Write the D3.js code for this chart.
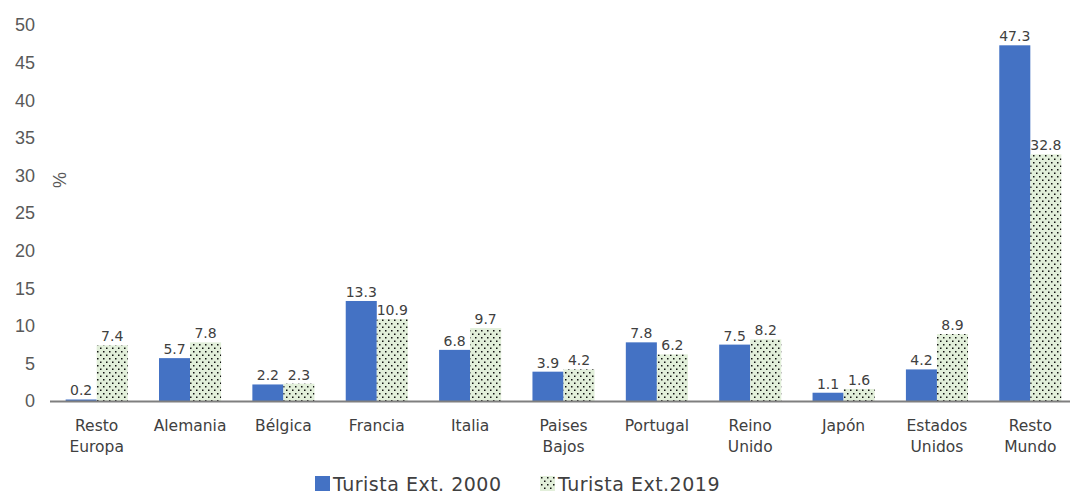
<!DOCTYPE html>
<html><head><meta charset="utf-8">
<script src="https://cdn.jsdelivr.net/npm/d3@7"></script>
<style>body{margin:0;background:#fff}svg{display:block}</style>
</head><body><svg id="c" width="1075" height="494"></svg>
<script>
const categories = [["Resto","Europa"],["Alemania"],["Bélgica"],["Francia"],["Italia"],["Paises","Bajos"],["Portugal"],["Reino","Unido"],["Japón"],["Estados","Unidos"],["Resto","Mundo"]];
const values2000 = [0.2,5.7,2.2,13.3,6.8,3.9,7.8,7.5,1.1,4.2,47.3];
const values2019 = [7.4,7.8,2.3,10.9,9.7,4.2,6.2,8.2,1.6,8.9,32.8];
const yTicks = [0,5,10,15,20,25,30,35,40,45,50];
const seriesNames = ["Turista Ext. 2000","Turista Ext.2019"];

const svg = d3.select("#c");
const defs = svg.append("defs");
const pat = defs.append("pattern").attr("id","dots").attr("patternUnits","userSpaceOnUse")
  .attr("width",6).attr("height",7);
pat.append("rect").attr("width",6).attr("height",7).attr("fill","#e2efda");
pat.append("rect").attr("x",1).attr("y",1).attr("width",1.5).attr("height",1.5).attr("fill","#111");
pat.append("rect").attr("x",4).attr("y",4.5).attr("width",1.5).attr("height",1.5).attr("fill","#111");

const x = d3.scaleBand().domain(d3.range(categories.length)).range([50,1077]).paddingInner(0.335).paddingOuter(0.1675);
const y = d3.scaleLinear().domain([0,50]).range([401,25]);
const xs = d3.scaleBand().domain([0,1]).range([0,x.bandwidth()]);

svg.append("g").selectAll("text").data(yTicks).join("text")
  .attr("x",35).attr("y",d=>y(d)).attr("dy","0.35em").attr("text-anchor","end")
  .attr("font-family","Liberation Sans, Arial, sans-serif").attr("font-size",18).attr("fill","#595959")
  .text(d=>d);

svg.append("text").attr("transform","translate(66,180) rotate(-90)").attr("text-anchor","middle")
  .attr("font-family","Liberation Sans, Arial, sans-serif").attr("font-size",18).attr("fill","#595959").text("%");

const series = [values2000, values2019];
const fills = ["#4472c4","url(#dots)"];
series.forEach((vals,si)=>{
  const g = svg.append("g");
  g.selectAll("rect").data(vals).join("rect")
    .attr("x",(d,i)=>x(i)+xs(si)).attr("width",xs.bandwidth())
    .attr("y",d=>y(d)).attr("height",d=>y(0)-y(d)).attr("fill",fills[si]);
  g.selectAll("text").data(vals).join("text")
    .attr("x",(d,i)=>x(i)+xs(si)+xs.bandwidth()/2).attr("y",d=>y(d)-4)
    .attr("text-anchor","middle").attr("font-family","DejaVu Sans, Verdana, sans-serif")
    .attr("font-size",14).attr("fill","#404040").text(d=>d.toFixed(1));
});

svg.append("line").attr("x1",50).attr("x2",1070).attr("y1",y(0)+0.5).attr("y2",y(0)+0.5)
  .attr("stroke","#7f7f7f").attr("stroke-width",2);

const cl = svg.append("g").selectAll("text").data(categories).join("text")
  .attr("x",(d,i)=>x(i)+x.bandwidth()/2).attr("y",431).attr("text-anchor","middle")
  .attr("font-family","DejaVu Sans, Verdana, sans-serif").attr("font-size",15.5).attr("fill","#404040");
cl.selectAll("tspan").data(d=>d).join("tspan")
  .attr("x",function(){return d3.select(this.parentNode).attr("x");})
  .attr("dy",(d,i)=>i===0?0:21).text(d=>d);

const leg = [{x:315,fill:fills[0],name:seriesNames[0]},{x:540,fill:fills[1],name:seriesNames[1]}];
const lg = svg.append("g").selectAll("g").data(leg).join("g").attr("transform",d=>`translate(${d.x},476)`);
lg.append("rect").attr("width",15).attr("height",15).attr("fill",d=>d.fill);
lg.append("text").attr("x",18).attr("y",15).attr("font-family","DejaVu Sans, Verdana, sans-serif")
  .attr("font-size",19).attr("letter-spacing",0.5).attr("fill","#404040").text(d=>d.name);
</script></body></html>
